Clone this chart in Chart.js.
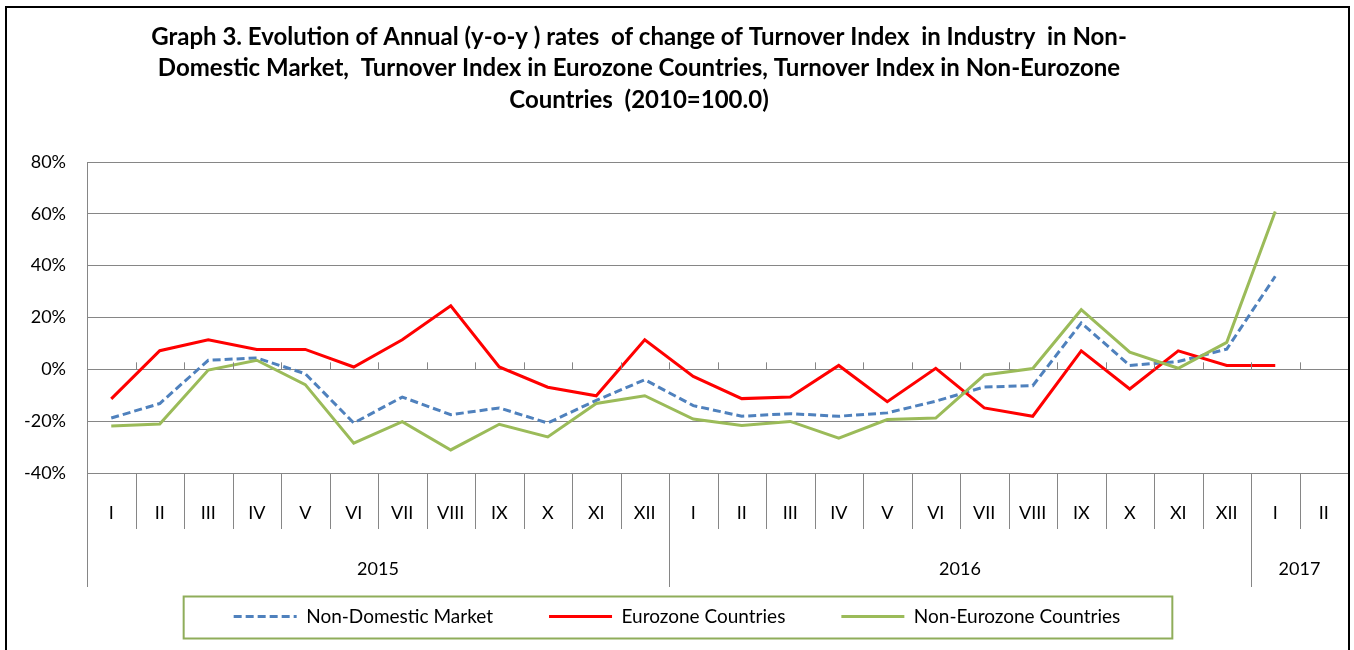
<!DOCTYPE html>
<html>
<head>
<meta charset="utf-8">
<script src="https://cdn.jsdelivr.net/npm/chart.js@4/dist/chart.umd.min.js"></script>
<style>
  body { margin: 0; background: #fff; }
  canvas { display: block; }
</style>
</head>
<body>
<canvas id="turnover_chart" width="1354" height="650"></canvas>
<script>
const titleLines = [
  'Graph 3. Evolution of Annual (y-o-y ) rates  of change of Turnover Index  in Industry  in Non-',
  'Domestic Market,  Turnover Index in Eurozone Countries, Turnover Index in Non-Eurozone',
  'Countries  (2010=100.0)'
];
const months = ['I','II','III','IV','V','VI','VII','VIII','IX','X','XI','XII',
                'I','II','III','IV','V','VI','VII','VIII','IX','X','XI','XII',
                'I','II'];
const years = ['2015', '2016', '2017'];
const yearSpans = [12, 12, 2];

const nonDomestic = [-18.8, -13.2, 3.5, 4.4, -1.7, -20.7, -10.7, -17.5, -14.9, -20.7, -12.0, -4.0,
                     -14.0, -18.1, -17.1, -18.1, -16.8, -12.3, -6.8, -6.3, 17.9, 1.5, 3.0, 7.8,
                     35.9, null];
const eurozone = [-11.4, 7.2, 11.4, 7.7, 7.7, 0.9, 11.4, 24.5, 0.9, -6.9, -10.2, 11.4,
                  -2.7, -11.3, -10.7, 1.5, -12.5, 0.4, -14.9, -18.1, 7.1, -7.6, 7.1, 1.5,
                  1.5, null];
const nonEurozone = [-21.9, -21.1, -0.3, 3.5, -5.9, -28.5, -20.2, -31.1, -21.2, -26.1, -13.2, -10.2,
                     -19.2, -21.7, -20.1, -26.6, -19.4, -18.8, -2.2, 0.3, 23.0, 6.6, 0.4, 10.4,
                     60.9, null];

const yMin = -40, yMax = 80, yStep = 20;

const gridGray = '#868686';

Chart.defaults.font.family = 'Lato';
Chart.defaults.font.size = 18;
Chart.defaults.color = '#000';

// title, multi-level category axis, legend frame and outer border
const extras = {
  id: 'extras',
  beforeDraw(chart) {
    const ctx = chart.ctx;
    ctx.save();
    ctx.fillStyle = '#fff';
    ctx.fillRect(0, 0, chart.width, chart.height);
    ctx.restore();
  },
  afterDraw(chart) {
    const ctx = chart.ctx;
    const xs = chart.scales.x, ys = chart.scales.y;
    const w = xs.getPixelForValue(1) - xs.getPixelForValue(0);
    const start = xs.getPixelForValue(0) - w / 2;
    const bottom = chart.chartArea.bottom;
    const zero = ys.getPixelForValue(0);

    const yearEdges = [0];
    yearSpans.forEach(n => yearEdges.push(yearEdges[yearEdges.length - 1] + n));

    ctx.save();
    ctx.strokeStyle = gridGray;
    ctx.lineWidth = 1;
    ctx.beginPath();
    for (let i = 0; i <= months.length; i++) {
      const px = Math.round(start + i * w) + 0.5;
      const long = yearEdges.includes(i);
      ctx.moveTo(px, bottom);
      ctx.lineTo(px, bottom + (long ? 114 : 56));
      ctx.moveTo(px, zero - 7);
      ctx.lineTo(px, zero);
    }
    ctx.stroke();

    ctx.fillStyle = '#000';
    ctx.font = '18px Lato';
    ctx.textAlign = 'center';
    ctx.textBaseline = 'middle';
    years.forEach((yr, k) => {
      const cx = start + (yearEdges[k] + yearEdges[k + 1]) / 2 * w;
      ctx.fillText(yr, cx, bottom + 96);
    });

    // legend frame
    const boxes = chart.legend.legendHitBoxes;
    if (boxes.length) {
      const first = boxes[0], last = boxes[boxes.length - 1];
      const cy = first.top + first.height / 2 + 1;
      const l = first.left - 50, r = last.left + last.width + 52;
      ctx.strokeStyle = '#8fad5a';
      ctx.lineWidth = 2;
      ctx.strokeRect(l, cy - 21, r - l, 42);
    }

    // title
    ctx.font = 'bold 24px Lato';
    titleLines.forEach((t, i) => ctx.fillText(t, 639, 37 + i * 31.5));

    // outer border
    ctx.strokeStyle = '#000';
    ctx.lineWidth = 2;
    ctx.strokeRect(6, 7, 1343, 700);
    ctx.restore();
  }
};

const ctx = document.getElementById('turnover_chart');
const chart = new Chart(ctx, {
  type: 'line',
  data: {
    labels: months,
    datasets: [
      {
        label: 'Non-Domestic Market',
        data: nonDomestic,
        borderColor: '#4f81bd',
        borderWidth: 3,
        borderDash: [8, 4],
        order: 3
      },
      {
        label: 'Eurozone Countries',
        data: eurozone,
        borderColor: '#ff0000',
        borderWidth: 3,
        order: 2
      },
      {
        label: 'Non-Eurozone Countries',
        data: nonEurozone,
        borderColor: '#9bbb59',
        borderWidth: 3,
        order: 1
      }
    ]
  },
  options: {
    responsive: false,
    animation: false,
    events: [],
    elements: {
      point: { radius: 0 },
      line: { tension: 0, fill: false }
    },
    layout: { padding: { left: 6, right: 6, top: 162, bottom: 14 } },
    scales: {
      x: {
        offset: true,
        grid: {
          display: true,
          drawOnChartArea: false,
          drawTicks: true,
          tickLength: 29,
          color: 'rgba(0,0,0,0)',
          tickColor: 'rgba(0,0,0,0)'
        },
        border: { display: false },
        ticks: { maxRotation: 0, autoSkip: false, padding: 0 },
        afterFit(scale) { scale.height = 78; }
      },
      y: {
        min: yMin,
        max: yMax,
        grid: { color: gridGray, drawTicks: false },
        border: { display: true, color: gridGray },
        ticks: {
          stepSize: yStep,
          padding: 21,
          callback: v => v + '%'
        },
        afterFit(scale) { scale.width = 81; }
      }
    },
    plugins: {
      title: { display: false },
      tooltip: { enabled: false },
      legend: {
        position: 'bottom',
        labels: {
          usePointStyle: true,
          pointStyleWidth: 63,
          padding: 56,
          color: '#000',
          font: { size: 19 },
          generateLabels(chart) {
            return chart.data.datasets.map((ds, i) => ({
              text: ds.label,
              strokeStyle: ds.borderColor,
              fillStyle: ds.borderColor,
              lineWidth: ds.borderWidth,
              lineDash: ds.borderDash || [],
              pointStyle: 'line',
              datasetIndex: i,
              hidden: false
            }));
          }
        }
      }
    }
  },
  plugins: [extras]
});
</script>
</body>
</html>
